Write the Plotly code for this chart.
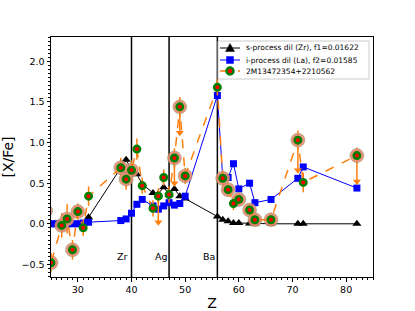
import plotly.graph_objects as go

# ---------------- data ----------------
# s-process dilution model (Zr)
s_Z = [25, 26, 27, 28, 29, 30, 31, 32, 38, 39, 40, 41, 42, 44, 45, 46, 47, 48, 49, 50,
       56, 57, 58, 59, 60, 62, 63, 66, 71, 72, 82]
s_val = [0.0, 0.0, 0.0, 0.0, 0.0, 0.0, 0.0, 0.08, 0.70, 0.79, 0.66, 0.61, 0.49, 0.38, 0.37, 0.45, 0.36, 0.43, 0.34, 0.31,
         0.09, 0.05, 0.03, 0.01, 0.01, 0.005, 0.0, 0.0, 0.0, 0.0, 0.0]

# i-process dilution model (La)
i_Z = [25, 26, 27, 28, 29, 30, 31, 32, 38, 39, 40, 41, 42, 44, 45, 46, 47, 48, 49, 50,
       56, 57, 58, 59, 60, 62, 63, 66, 71, 72, 82]
i_val = [0.0, 0.0, 0.0, 0.0, 0.0, 0.0, 0.01, 0.02, 0.04, 0.06, 0.13, 0.24, 0.30, 0.22, 0.18, 0.22, 0.26, 0.23, 0.25, 0.34,
         1.58, 0.57, 0.57, 0.74, 0.43, 0.50, 0.26, 0.30, 0.56, 0.70, 0.44]

# observed star 2M13472354+2210562
obs_Z = [24, 25, 27, 28, 29, 30, 31, 32, 38, 39, 40, 41, 42, 44, 45, 46, 47, 48, 49, 50,
         56, 57, 58, 59, 60, 62, 63, 66, 71, 72, 82]
obs_val = [0.16, -0.48, -0.02, 0.06, -0.32, 0.15, -0.05, 0.34, 0.69, 0.55, 0.66, 0.92, 0.47, 0.19, 0.34, 0.57, 0.36, 0.81, 1.44, 0.59,
           1.68, 0.56, 0.42, 0.25, 0.30, 0.17, 0.05, 0.05, 1.03, 0.51, 0.84]
obs_err = [0.15, 0.12, 0.15, 0.18, 0.12, 0.10, 0.10, 0.12, 0.12, 0.13, 0.12, 0.13, 0.10, 0.10, 0.10, 0.10, 0.10, 0.12, 0.12, 0.10,
           0.10, 0.10, 0.08, 0.08, 0.08, 0.08, 0.08, 0.08, 0.12, 0.12, 0.10]
# 1 = highlighted (halo) point
obs_halo = [1, 1, 1, 1, 1, 1, 0, 0, 1, 1, 1, 0, 0, 0, 0, 0, 0, 1, 1, 1,
            0, 1, 1, 0, 1, 1, 1, 1, 1, 0, 1]
# upper limits: arrow length (0 = no upper limit)
obs_ulim = [0, 0, 0, 0, 0, 0, 0, 0, 0, 0, 0, 0, 0, 0, 0.32, 0, 0, 0.31, 0.32, 0,
            0, 0, 0, 0, 0, 0, 0, 0, 0.37, 0, 0.32]

ref_Z = [40, 47, 56]
ref_lab = ["Zr", "Ag", "Ba"]

legend_labels = ["s-process dil (Zr), f1=0.01622",
                 "i-process dil (La), f2=0.01585",
                 "2M13472354+2210562"]

x_range = [25, 85]
y_range = [-0.655, 2.3]

# ---------------- figure ----------------
ORANGE = "#ff7f0e"
W, H = 415, 311
ML, MR, MT, MB = 51, 42, 37, 34
PW, PH = W - ML - MR, H - MT - MB


def px2paper(px, py):
    return (px - ML) / PW, (H - MB - py) / PH


fig = go.Figure()

# vertical reference lines
for z in ref_Z:
    fig.add_shape(type="line", x0=z, x1=z, y0=0, y1=1, xref="x", yref="paper",
                  line=dict(color="black", width=1.5), layer="below")
for z, lab in zip(ref_Z, ref_lab):
    fig.add_annotation(x=z - 3, y=-0.5, text=lab, showarrow=False, xanchor="left",
                       yanchor="bottom", font=dict(size=9.5, color="black"))

fig.add_trace(go.Scatter(
    x=s_Z, y=s_val, mode="lines+markers", name=legend_labels[0],
    line=dict(color="black", width=1),
    marker=dict(symbol="triangle-up", size=8, color="black")))

fig.add_trace(go.Scatter(
    x=i_Z, y=i_val, mode="lines+markers", name=legend_labels[1],
    line=dict(color="blue", width=1),
    marker=dict(symbol="square", size=7, color="blue")))

# error bars of observed
fig.add_trace(go.Scatter(
    x=obs_Z, y=obs_val, mode="none", hoverinfo="skip",
    error_y=dict(type="data", array=obs_err, color=ORANGE, thickness=1.5, width=0)))

# upper limit arrows
ul_x = [z for z, u in zip(obs_Z, obs_ulim) if u > 0]
ul_y = [v for v, u in zip(obs_val, obs_ulim) if u > 0]
ul_len = [u for u in obs_ulim if u > 0]
fig.add_trace(go.Scatter(
    x=ul_x, y=ul_y, mode="none", hoverinfo="skip",
    error_y=dict(type="data", symmetric=False, array=[0] * len(ul_x), arrayminus=ul_len,
                 color=ORANGE, thickness=1.5, width=0)))
fig.add_trace(go.Scatter(
    x=ul_x, y=[v - u for v, u in zip(ul_y, ul_len)], mode="markers", hoverinfo="skip",
    marker=dict(symbol="triangle-down", size=7, color=ORANGE)))

# halo
h_x = [z for z, h in zip(obs_Z, obs_halo) if h]
h_y = [v for v, h in zip(obs_val, obs_halo) if h]
fig.add_trace(go.Scatter(
    x=h_x, y=h_y, mode="markers", hoverinfo="skip",
    marker=dict(symbol="circle", size=14, color="rgba(236,135,115,0.9)",
                line=dict(color="rgba(110,160,90,0.5)", width=0.8))))

fig.add_trace(go.Scatter(
    x=obs_Z, y=obs_val, mode="lines+markers", name=legend_labels[2],
    line=dict(color=ORANGE, width=1.5, dash="dash"),
    marker=dict(symbol="circle", size=6.5, color="red", line=dict(color="green", width=2.5))))

# ---------- compact legend (matplotlib-like) ----------
bx0, by0 = px2paper(218, 79)
bx1, by1 = px2paper(369, 41)
fig.add_shape(type="rect", xref="paper", yref="paper", x0=bx0, x1=bx1, y0=by0, y1=by1,
              fillcolor="rgba(255,255,255,0.8)", line=dict(color="#cccccc", width=1),
              layer="above")
row_py = [48, 60, 71]
lx0, _ = px2paper(220, 0)
lx1, _ = px2paper(240, 0)
mx, _ = px2paper(230, 0)
tx, _ = px2paper(244, 0)
line_styles = [dict(color="black", width=1),
               dict(color="blue", width=1),
               dict(color=ORANGE, width=1.5, dash="dash")]
for k, (py, lab, ls) in enumerate(zip(row_py, legend_labels, line_styles)):
    _, ry = px2paper(0, py)
    fig.add_shape(type="line", xref="paper", yref="paper", x0=lx0, x1=lx1, y0=ry, y1=ry,
                  line=ls, layer="above")
    if k == 0:
        fig.add_shape(type="path", xref="paper", yref="paper", xsizemode="pixel",
                      ysizemode="pixel", xanchor=mx, yanchor=ry,
                      path="M-4.5,-3.5 L4.5,-3.5 L0,4.5 Z", fillcolor="black",
                      line=dict(color="black", width=0.5), layer="above")
    elif k == 1:
        fig.add_shape(type="rect", xref="paper", yref="paper", xsizemode="pixel",
                      ysizemode="pixel", xanchor=mx, yanchor=ry, x0=-3.5, x1=3.5, y0=-3.5, y1=3.5,
                      fillcolor="blue", line=dict(color="blue", width=0.5), layer="above")
    else:
        fig.add_shape(type="circle", xref="paper", yref="paper", xsizemode="pixel",
                      ysizemode="pixel", xanchor=mx, yanchor=ry, x0=-3.5, x1=3.5, y0=-3.5, y1=3.5,
                      fillcolor="red", line=dict(color="green", width=2.5), layer="above")
    fig.add_annotation(xref="paper", yref="paper", x=tx, y=ry, text=lab, showarrow=False,
                       xanchor="left", yanchor="middle",
                       font=dict(family="DejaVu Sans", size=7.5, color="black"))

axis_common = dict(showline=True, linecolor="black", linewidth=1, mirror=True,
                   ticks="outside", ticklen=3.5, tickwidth=1, tickcolor="black",
                   showgrid=False, zeroline=False, automargin=False,
                   tickfont=dict(family="DejaVu Sans", size=9.5, color="black"))

fig.update_xaxes(range=x_range, dtick=10, tick0=0,
                 minor=dict(ticks="outside", ticklen=2, dtick=1, tick0=0, tickcolor="black"),
                 title=dict(text="Z", font=dict(family="DejaVu Sans", size=14, color="black"),
                            standoff=4),
                 **axis_common)
fig.update_yaxes(range=y_range, dtick=0.5, tick0=0, tickformat=".1f",
                 minor=dict(ticks="outside", ticklen=2, dtick=0.05, tick0=0, tickcolor="black"),
                 title=dict(text="[X/Fe]", font=dict(family="DejaVu Sans", size=14, color="black"),
                            standoff=6),
                 **axis_common)

fig.update_layout(
    width=W, height=H,
    margin=dict(l=ML, r=MR, t=MT, b=MB),
    paper_bgcolor="white", plot_bgcolor="white",
    font=dict(family="DejaVu Sans", color="black"),
    showlegend=False,
)

fig.write_html("out.html", config={"displayModeBar": False},
               post_script="document.body.style.margin='0';document.body.style.overflow='hidden';")
